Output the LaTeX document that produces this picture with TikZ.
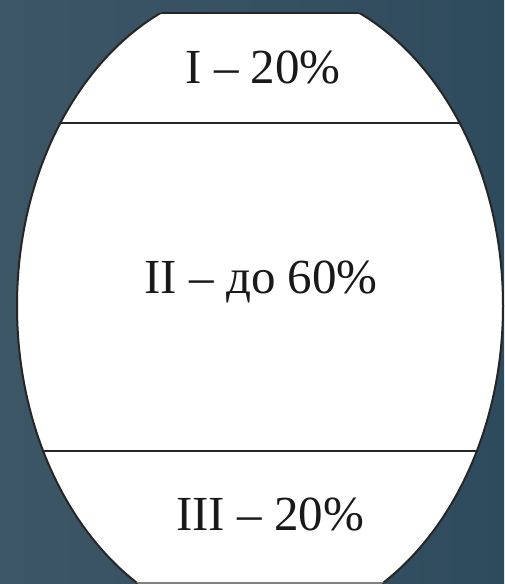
\documentclass[tikz,border=0pt]{standalone}
\usepackage{fontspec}
\setmainfont{Liberation Serif}
\usepackage{xcolor}
\usetikzlibrary{positioning}
\definecolor{slateleft}{RGB}{61,86,102}
\definecolor{slateright}{RGB}{46,75,93}
\definecolor{inkgray}{RGB}{25,25,25}

\begin{document}
\begin{tikzpicture}[x=1pt,y=-1pt,
  zone/.style={font=\fontsize{49}{57}\selectfont,text=inkgray,inner sep=0pt,anchor=base},
  rim/.style={line width=2pt,black!85}]
  % background
  \shade[left color=slateleft,right color=slateright] (0,0) rectangle (504,584);
  \useasboundingbox (0,0) rectangle (504,584);
  % egg, cut flat at top and bottom
  \begin{scope}
    \clip (0,13) rectangle (504,583);
    \fill[white] (260,306) ellipse [x radius=243pt,y radius=321pt];
    \draw[rim] (260,306) ellipse [x radius=243pt,y radius=321pt];
  \end{scope}
  % flat ends and the two borders
  \begin{scope}
    \clip (260,306) ellipse [x radius=243pt,y radius=321pt];
    \draw[rim] (0,13) -- (504,13);
    \draw[rim,line width=2.4pt] (0,123) -- (504,123);
    \draw[rim,line width=2.4pt] (0,451) -- (504,451);
    \draw[rim,black!50] (0,583) -- (504,583);
  \end{scope}
  % zone labels
  \node[zone] (upper) at (263,83) {I – 20\%};
  \node[zone] (middle) at (261,293) {II – до 60\%};
  \node[zone] (lower) at (270,530) {III – 20\%};
\end{tikzpicture}
\end{document}
